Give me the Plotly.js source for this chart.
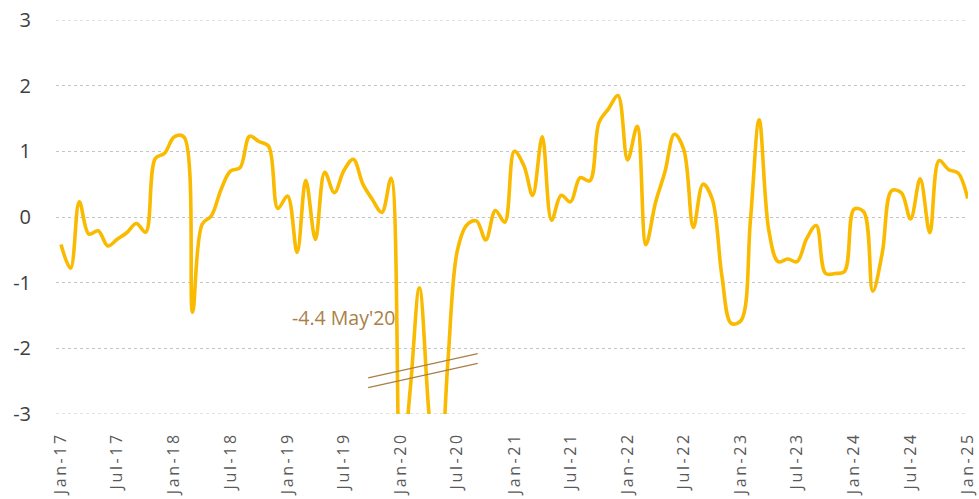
<!DOCTYPE html>
<html>
<head>
<meta charset="utf-8">
<script src="https://cdn.plot.ly/plotly-3.0.1.min.js"></script>
<style>
html,body{margin:0;padding:0;background:#fff;}
#chart{width:979px;height:499px;}
.xtick text{letter-spacing:2.6px;}
</style>
</head>
<body>
<div id="chart"></div>
<script>
// Monthly series, Jan-17 .. Jan-25
const startYear = 2017;
const values = [
  // 2017
  -0.42, -0.78, 0.23, -0.26, -0.21, -0.44, -0.34, -0.24, -0.10, -0.23, 0.89, 0.97,
  // 2018
  1.22, 1.22, -1.45, -0.11, 0.02, 0.42, 0.70, 0.75, 1.23, 1.15, 1.08, 0.13,
  // 2019
  0.32, -0.54, 0.56, -0.34, 0.68, 0.37, 0.70, 0.88, 0.50, 0.27, 0.07, 0.59,
  // 2020
  -4.0, -2.6, -1.08, -3.0, -4.4, -2.2, -0.52, -0.12, -0.06, -0.35, 0.10, -0.08,
  // 2021
  1.00, 0.78, 0.33, 1.22, -0.05, 0.33, 0.23, 0.60, 0.55, 1.44, 1.65, 1.85,
  // 2022
  0.87, 1.38, -0.42, 0.22, 0.68, 1.26, 1.03, -0.16, 0.50, 0.27, -0.90, -1.62,
  // 2023
  -1.58, -0.04, 1.48, -0.20, -0.68, -0.64, -0.68, -0.33, -0.13, -0.86, -0.86, -0.83,
  // 2024
  0.12, 0.08, -1.13, -0.54, 0.40, 0.37, -0.03, 0.58, -0.24, 0.86, 0.72, 0.67,
  // 2025
  0.28
];
const yTicks = [3, 2, 1, 0, -1, -2, -3];
const annotationText = "-4.4 May'20";

const dates = values.map((v, i) => {
  const y = startYear + Math.floor(i / 12);
  const m = (i % 12) + 1;
  return y + '-' + String(m).padStart(2, '0') + '-01';
});

const trace = {
  x: dates,
  y: values,
  type: 'scatter',
  mode: 'lines',
  line: {color: '#FABA00', width: 3.6, shape: 'spline', smoothing: 1},
  hoverinfo: 'x+y'
};

const brown = '#A97F48';
const gridColor = '#c4c4c4';
const yMin = yTicks[yTicks.length - 1], yMax = yTicks[0];

const edgeGrid = [yMax, yMin].map(v => ({
  type: 'line', xref: 'paper', yref: 'y', x0: 0, x1: 1, y0: v, y1: v, layer: 'below',
  line: {color: gridColor, width: 1, dash: 'dot'}
}));

const layout = {
  width: 979, height: 499,
  margin: {l: 56, r: 11, t: 20, b: 85},
  paper_bgcolor: '#ffffff',
  plot_bgcolor: '#ffffff',
  showlegend: false,
  font: {family: '"Open Sans", "Noto Sans", sans-serif', color: '#404040'},
  xaxis: {
    type: 'date',
    range: ['2016-12-16', '2025-01-02'],
    tick0: '2017-01-01',
    dtick: 'M6',
    tickformat: '%b-%y',
    tickangle: -90,
    showgrid: false,
    zeroline: false,
    showline: false,
    ticks: '',
    ticklabelstandoff: 14,
    tickfont: {size: 16, color: '#595959', family: '"Open Sans", sans-serif'}
  },
  yaxis: {
    range: [yMin, yMax],
    tickvals: yTicks,
    ticktext: yTicks.map(String),
    showgrid: true,
    gridcolor: gridColor,
    gridwidth: 1,
    griddash: 'dot',
    zeroline: false,
    showline: false,
    ticks: '',
    ticklabelstandoff: 24,
    tickfont: {size: 20, color: '#404040', family: '"Open Sans", sans-serif'}
  },
  annotations: [{
    x: '2019-12-20', y: -1.53, xref: 'x', yref: 'y',
    xanchor: 'right', yanchor: 'middle',
    text: annotationText, showarrow: false,
    font: {size: 19.5, color: brown, family: '"Open Sans", sans-serif'}
  }],
  shapes: edgeGrid.concat([
    {type: 'line', xref: 'x', yref: 'y', x0: '2019-09-18', y0: -2.45, x1: '2020-09-05', y1: -2.08,
     line: {color: brown, width: 1.3}},
    {type: 'line', xref: 'x', yref: 'y', x0: '2019-09-18', y0: -2.60, x1: '2020-09-05', y1: -2.23,
     line: {color: brown, width: 1.3}}
  ])
};

Plotly.newPlot('chart', [trace], layout, {displayModeBar: false, staticPlot: true});
</script>
</body>
</html>
